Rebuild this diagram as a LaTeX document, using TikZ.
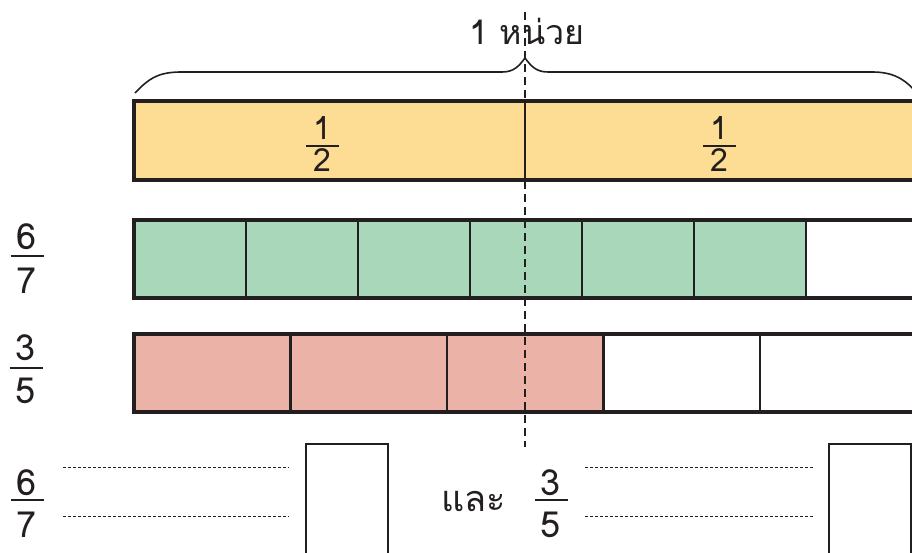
\documentclass[tikz,border=0pt]{standalone}
\usepackage{fontspec}
\newfontfamily\thaifont[Script=Thai]{Loma}
\definecolor{ink}{HTML}{231F20}
\definecolor{yel}{HTML}{FDDC94}
\definecolor{grn}{HTML}{A8D8B9}
\definecolor{red}{HTML}{EBB2A8}
\tikzset{
  txt/.style={inner sep=0pt, text=ink, font=\thaifont\fontsize{36}{40}\selectfont},
  small/.style={txt, font=\thaifont\fontsize{32}{36}\selectfont},
  barbox/.style={draw=ink, line width=3.3pt},
  divline/.style={draw=ink, line width=2.2pt},
  fracbar/.style={draw=ink, line width=2.6pt},
  guide/.style={draw=ink, line width=0.8pt, dash pattern=on 3pt off 2pt},
  ansbox/.style={draw=ink, line width=2.6pt},
}
\newcommand{\myfrac}[7]{% name, x, numbaseline, barY, denbaseline, num, den
  \node[txt, anchor=base] (#1n) at (#2,#3) {#6};
  \node[txt, anchor=base] (#1d) at (#2,#5) {#7};
  \draw[fracbar] ([xshift=-16.5pt]#2,#4) -- ([xshift=16.5pt]#2,#4);
}
\begin{document}
\begin{tikzpicture}[x=1pt,y=-1pt]
\useasboundingbox (0,0) rectangle (912,553);
\clip (0,0) rectangle (912,553);
% yellow bar
\fill[yel] (134,101) rectangle (916,180);
\draw[divline] (525,101) -- (525,180);
\draw[barbox] (134,101) rectangle (916,180);
% green bar
\fill[grn] (134,220) rectangle (806,298);
\foreach \i in {1,...,6} \draw[divline] ({134+\i*112},220) -- ({134+\i*112},298);
\draw[barbox] (134,220) rectangle (920,298);
% red bar
\fill[red] (134,334) rectangle (603.5,412);
\foreach \i in {1,...,4} \draw[divline] ({134+\i*156.5},334) -- ({134+\i*156.5},412);
\draw[barbox] (134,334) rectangle (916,412);
% brace
\draw[ink, line width=1.6pt] (135,93) .. controls (150,77) and (160,72) .. (182,72) -- (502,72) .. controls (514,72) and (519,66) .. (525,58) .. controls (531,66) and (536,72) .. (548,72) -- (872,72) .. controls (892,72) and (904,78) .. (917,93);
% title
\node[txt, anchor=base, font=\thaifont\fontsize{34}{38}\selectfont] (title) at (527,45) {1 หน่วย};
% dashed middle line
\draw[ink, line width=2pt, dash pattern=on 8pt off 5pt] (525,12) -- (525,447);
% yellow fractions
\node[small, anchor=base] (h1n) at (322,140) {1};
\node[small, anchor=base] (h1d) at (322,172) {2};
\draw[draw=ink, line width=2.2pt] (306,146) -- (339,146);
\node[small, anchor=base] (h2n) at (719,140) {1};
\node[small, anchor=base] (h2d) at (719,172) {2};
\draw[draw=ink, line width=2.2pt] (703,146) -- (736,146);
% side fractions
\myfrac{a}{27}{250}{256}{293}{6}{7}
\myfrac{b}{26}{360}{368}{403}{3}{5}
\myfrac{c}{27}{495}{500}{537}{6}{7}
\myfrac{e}{551}{495}{500}{537}{3}{5}
% and
\node[txt, anchor=base] (and) at (474,511) {และ};
% guides
\coordinate (g1a) at (63,467); \coordinate (g1b) at (289,467);
\coordinate (g2a) at (63,516); \coordinate (g2b) at (289,516);
\draw[guide] (g1a) -- (g1b);
\draw[guide] (g2a) -- (g2b);
\coordinate (g3a) at (585,467); \coordinate (g3b) at (813,467);
\coordinate (g4a) at (585,516); \coordinate (g4b) at (813,516);
\draw[guide] (g3a) -- (g3b);
\draw[guide] (g4a) -- (g4b);
% answer boxes
\draw[ansbox] (306,560) -- (306,444) -- (388,444) -- (388,560);
\draw[ansbox] (829,560) -- (829,444) -- (911,444) -- (911,560);
\end{tikzpicture}
\end{document}
